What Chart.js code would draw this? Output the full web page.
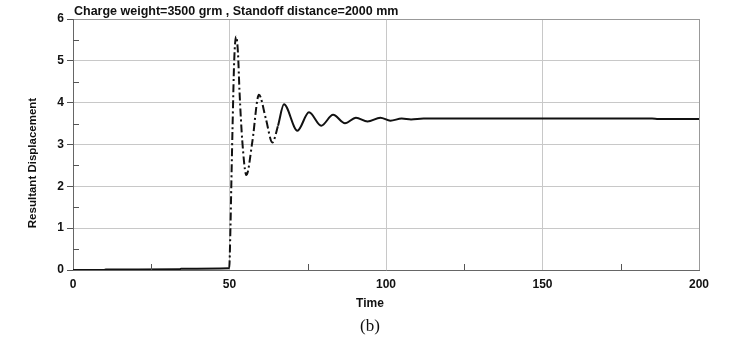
<!DOCTYPE html>
<html>
<head>
<meta charset="utf-8">
<script src="https://cdn.jsdelivr.net/npm/chart.js@4.4.1/dist/chart.umd.min.js"></script>
<style>
html,body{margin:0;padding:0;background:#fff;}
#wrap{width:736px;height:338px;position:relative;}
</style>
</head>
<body>
<div id="wrap"><canvas id="c" width="736" height="338"></canvas></div>
<script>
const titleText = "Charge weight=3500 grm , Standoff distance=2000 mm";
const xTitle = "Time";
const yTitle = "Resultant Displacement";
const caption = "(b)";
const xTicks = [0, 50, 100, 150, 200];
const yTicks = [0, 1, 2, 3, 4, 5, 6];
const timeValues = [0, 10, 10.5, 34, 34.5, 49.9, 50.3, 50.6, 51.0, 51.5, 52.1, 52.7, 53.2, 54.1, 55.4, 57.3, 59.4, 61.6, 63.7, 65.5, 67.4, 71.7, 75.4, 79.3, 83.1, 86.9, 90.4, 94.1, 98.2, 101.4, 105, 108, 112, 120, 150, 185, 187, 200];
const displacement = [0, 0, 0.01, 0.015, 0.03, 0.04, 1.0, 2.1, 3.5, 5.0, 5.58, 5.2, 4.27, 3.07, 2.27, 3.07, 4.19, 3.62, 3.05, 3.45, 3.96, 3.33, 3.77, 3.45, 3.71, 3.51, 3.64, 3.55, 3.64, 3.57, 3.62, 3.60, 3.62, 3.62, 3.62, 3.62, 3.61, 3.61];

const points = timeValues.map((t, i) => ({x: t, y: displacement[i]}));
const FONT = "'Liberation Sans', Arial, sans-serif";

const decor = {
  id: 'decor',
  afterDraw(chart) {
    const ctx = chart.ctx;
    const xs = chart.scales.x, ys = chart.scales.y;
    const ca = chart.chartArea;
    ctx.save();
    // minor ticks (inward)
    ctx.strokeStyle = '#555';
    ctx.lineWidth = 1;
    for (let v = 0.5; v < 6; v += 1) {
      const py = Math.round(ys.getPixelForValue(v)) + 0.5;
      ctx.beginPath(); ctx.moveTo(ca.left, py); ctx.lineTo(ca.left + 6, py); ctx.stroke();
    }
    for (let t = 25; t < 200; t += 50) {
      const px = Math.round(xs.getPixelForValue(t)) + 0.5;
      ctx.beginPath(); ctx.moveTo(px, ca.bottom); ctx.lineTo(px, ca.bottom - 6); ctx.stroke();
    }
    // texts
    ctx.fillStyle = '#111';
    ctx.font = "bold 12.5px " + FONT;
    ctx.textAlign = 'left'; ctx.textBaseline = 'middle';
    ctx.fillText(titleText, 74, 12);
    ctx.font = "bold 12px " + FONT;
    ctx.textAlign = 'center';
    ctx.fillText(xTitle, 370, 304);
    ctx.save();
    ctx.translate(33, 163);
    ctx.rotate(-Math.PI / 2);
    ctx.font = "bold 11.5px " + FONT;
    ctx.fillText(yTitle, 0, 0);
    ctx.restore();
    ctx.font = "17px 'Liberation Serif', 'Times New Roman', serif";
    ctx.fillText(caption, 370, 327);
    ctx.restore();
  }
};

new Chart(document.getElementById('c'), {
  type: 'line',
  data: {
    datasets: [{
      data: points,
      borderColor: '#111',
      borderWidth: 2,
      pointRadius: 0,
      fill: false,
      cubicInterpolationMode: 'monotone',
      segment: {
        borderDash: ctx => (ctx.p0.parsed.x >= 49.8 && ctx.p0.parsed.x < 64) ? [8, 3, 2, 3] : undefined
      }
    }]
  },
  options: {
    responsive: false,
    animation: false,
    layout: {padding: {left: 0, right: 37, top: 19, bottom: 0}},
    plugins: {legend: {display: false}, tooltip: {enabled: false}, title: {display: false}},
    scales: {
      x: {
        type: 'linear', min: 0, max: 200,
        afterBuildTicks: s => { s.ticks = xTicks.map(v => ({value: v})); },
        afterFit: s => { s.height = 68; },
        grid: {
          color: ctx => ctx.tick && ctx.tick.value === 200 ? '#999' : '#c8c8c8',
          lineWidth: 1, drawTicks: false
        },
        border: {color: '#666', width: 1},
        ticks: {color: '#111', font: {family: FONT, size: 12, weight: 'bold'}, padding: 7, maxRotation: 0}
      },
      y: {
        type: 'linear', min: 0, max: 6,
        afterBuildTicks: s => { s.ticks = yTicks.map(v => ({value: v})); },
        afterFit: s => { s.width = 73; },
        grid: {
          color: ctx => ctx.tick && ctx.tick.value === 6 ? '#999' : '#c8c8c8',
          tickColor: '#555', tickLength: 6, lineWidth: 1, drawTicks: true
        },
        border: {color: '#666', width: 1},
        ticks: {color: '#111', font: {family: FONT, size: 12, weight: 'bold'}, padding: 3}
      }
    }
  },
  plugins: [decor]
});
</script>
</body>
</html>
